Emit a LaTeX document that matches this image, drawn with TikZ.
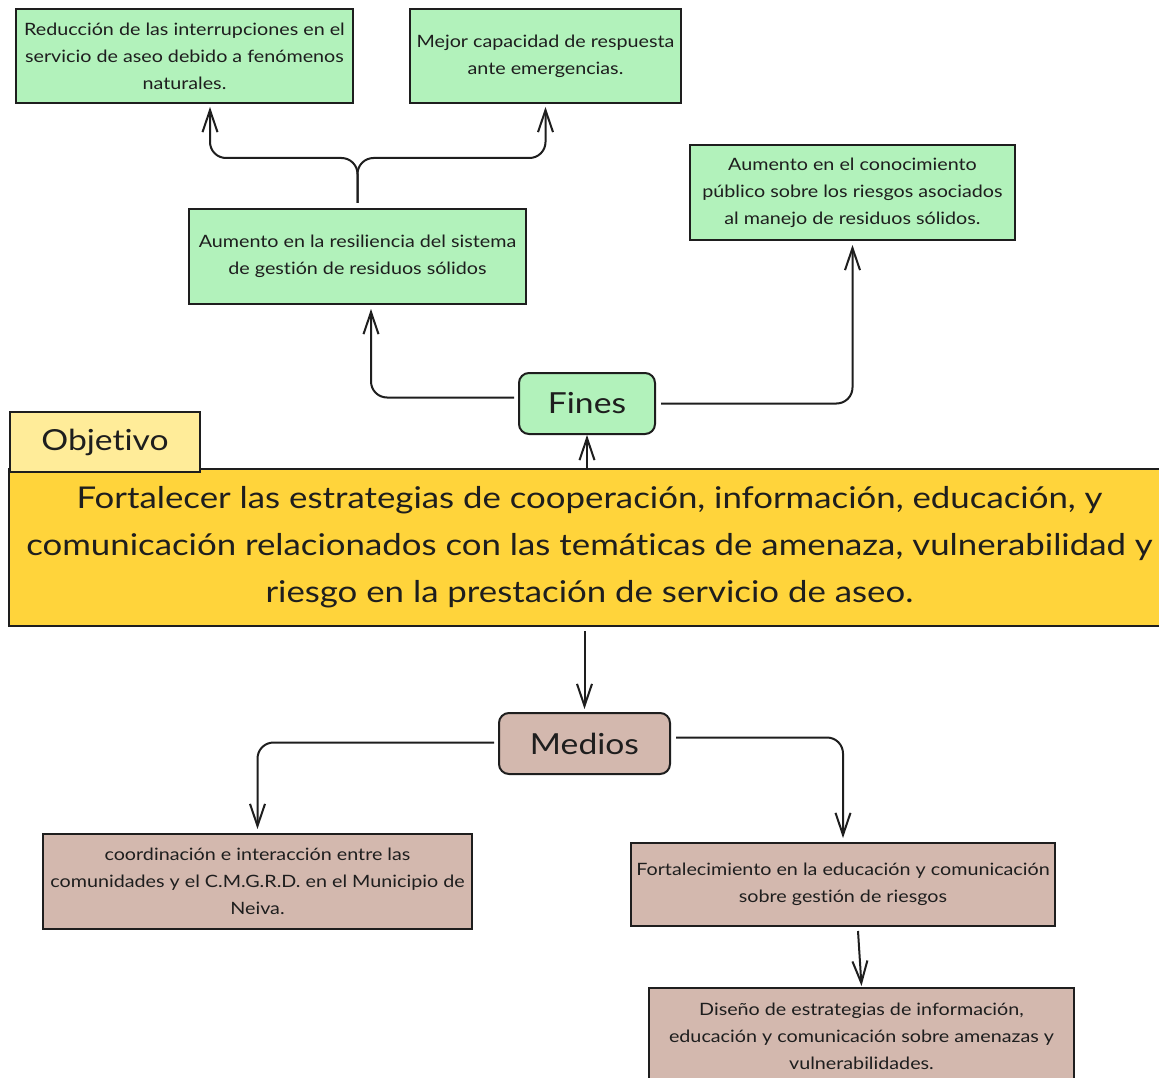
\documentclass[tikz,border=0pt]{standalone}
\usepackage{fontspec}
\setmainfont{Lato}[FakeStretch=1.16,Ligatures=NoCommon]
\usetikzlibrary{arrows.meta,calc}
\definecolor{ink}{HTML}{1E1E1E}
\definecolor{gbox}{HTML}{B2F2BB}
\definecolor{ybox}{HTML}{FFD43B}
\definecolor{tbox}{HTML}{FFEC99}
\definecolor{bbox}{HTML}{D3B8AE}
\tikzset{
  base/.style={draw=ink,line width=2pt,text=ink,align=center,inner sep=2pt},
  small/.style={base,font=\fontsize{17}{27}\selectfont},
  greenbox/.style={small,fill=gbox},
  brownbox/.style={small,fill=bbox},
  label/.style={base,rounded corners=10pt,font=\fontsize{29}{36}\selectfont},
  arr/.style={draw=ink,line width=2pt,rounded corners=16pt,
    -{Straight Barb[length=22pt,width=15pt,line width=2pt]}},
}
\begin{document}
\begin{tikzpicture}[x=1pt,y=-1pt]
\useasboundingbox[fill=white] (0,0) rectangle (1159,1078);
% green boxes
\node[greenbox,minimum width=337pt,minimum height=94pt] (A) at (184.5,56)
  {Reducción de las interrupciones en el\\servicio de aseo debido a fenómenos\\naturales.};
\node[greenbox,minimum width=271pt,minimum height=94pt] (B) at (545.5,56)
  {Mejor capacidad de respuesta\\ante emergencias.};
\node[greenbox,minimum width=337pt,minimum height=95pt] (C) at (357.5,256.5)
  {Aumento en la resiliencia del sistema\\de gestión de residuos sólidos};
\node[greenbox,minimum width=325pt,minimum height=95pt] (D) at (852.5,192.5)
  {Aumento en el conocimiento\\público sobre los riesgos asociados\\al manejo de residuos sólidos.};
% Fines
\node[label,fill=gbox,minimum width=136pt,minimum height=61pt] (Fines) at (587,403.5) {Fines};
% main objective
\node[base,fill=ybox,minimum width=1161pt,minimum height=157pt,
  font=\fontsize{30}{47}\selectfont] (Main) at (589.5,547.5)
  {Fortalecer las estrategias de cooperación, información, educación, y\\comunicación relacionados con las temáticas de amenaza, vulnerabilidad y\\riesgo en la prestación de servicio de aseo.};
\node[base,fill=tbox,minimum width=190pt,minimum height=60pt,
  font=\fontsize{29}{36}\selectfont] (Obj) at (105,442) {Objetivo};
% Medios
\node[label,fill=bbox,minimum width=171pt,minimum height=61pt] (Medios) at (584.5,743.5) {Medios};
% brown boxes
\node[brownbox,minimum width=429pt,minimum height=95pt] (E) at (257.5,881.5)
  {coordinación e interacción entre las\\comunidades y el C.M.G.R.D. en el Municipio de\\Neiva.};
\node[brownbox,minimum width=424pt,minimum height=83pt] (F) at (843,884.5)
  {Fortalecimiento en la educación y comunicación\\sobre gestión de riesgos};
\node[brownbox,minimum width=425pt,minimum height=96pt] (G) at (861.5,1036)
  {Diseño de estrategias de información,\\educación y comunicación sobre amenazas y\\vulnerabilidades.};
% connectors
\draw[arr] ([yshift=5pt]C.north) |- ([xshift=25.5pt,yshift=-54pt]A.south) -- ([xshift=25.5pt,yshift=-3pt]A.south);
\draw[arr] ([yshift=5pt]C.north) |- ([yshift=-54pt]B.south) -- ([yshift=-3pt]B.south);
\draw[arr] ([xshift=-4pt,yshift=6pt]Fines.west) -| ([xshift=13.5pt,yshift=-4pt]C.south);
\draw[arr] ([xshift=5pt]Fines.east) -| ([yshift=-4pt]D.south);
\draw[arr] (Main.north -| Fines.south) -- (Fines.south);
\draw[arr] ([yshift=-4pt]Main.south -| Medios.north) -- ([yshift=3pt]Medios.north);
\draw[arr] ([xshift=-4pt,yshift=1pt]Medios.west) -| ([yshift=4pt]E.north);
\draw[arr] ([xshift=5pt,yshift=6pt]Medios.east) -| ([yshift=4pt]F.north);
\draw[arr] ([xshift=15pt,yshift=-4pt]F.south) -- ([yshift=1pt]G.north);
\end{tikzpicture}
\end{document}
